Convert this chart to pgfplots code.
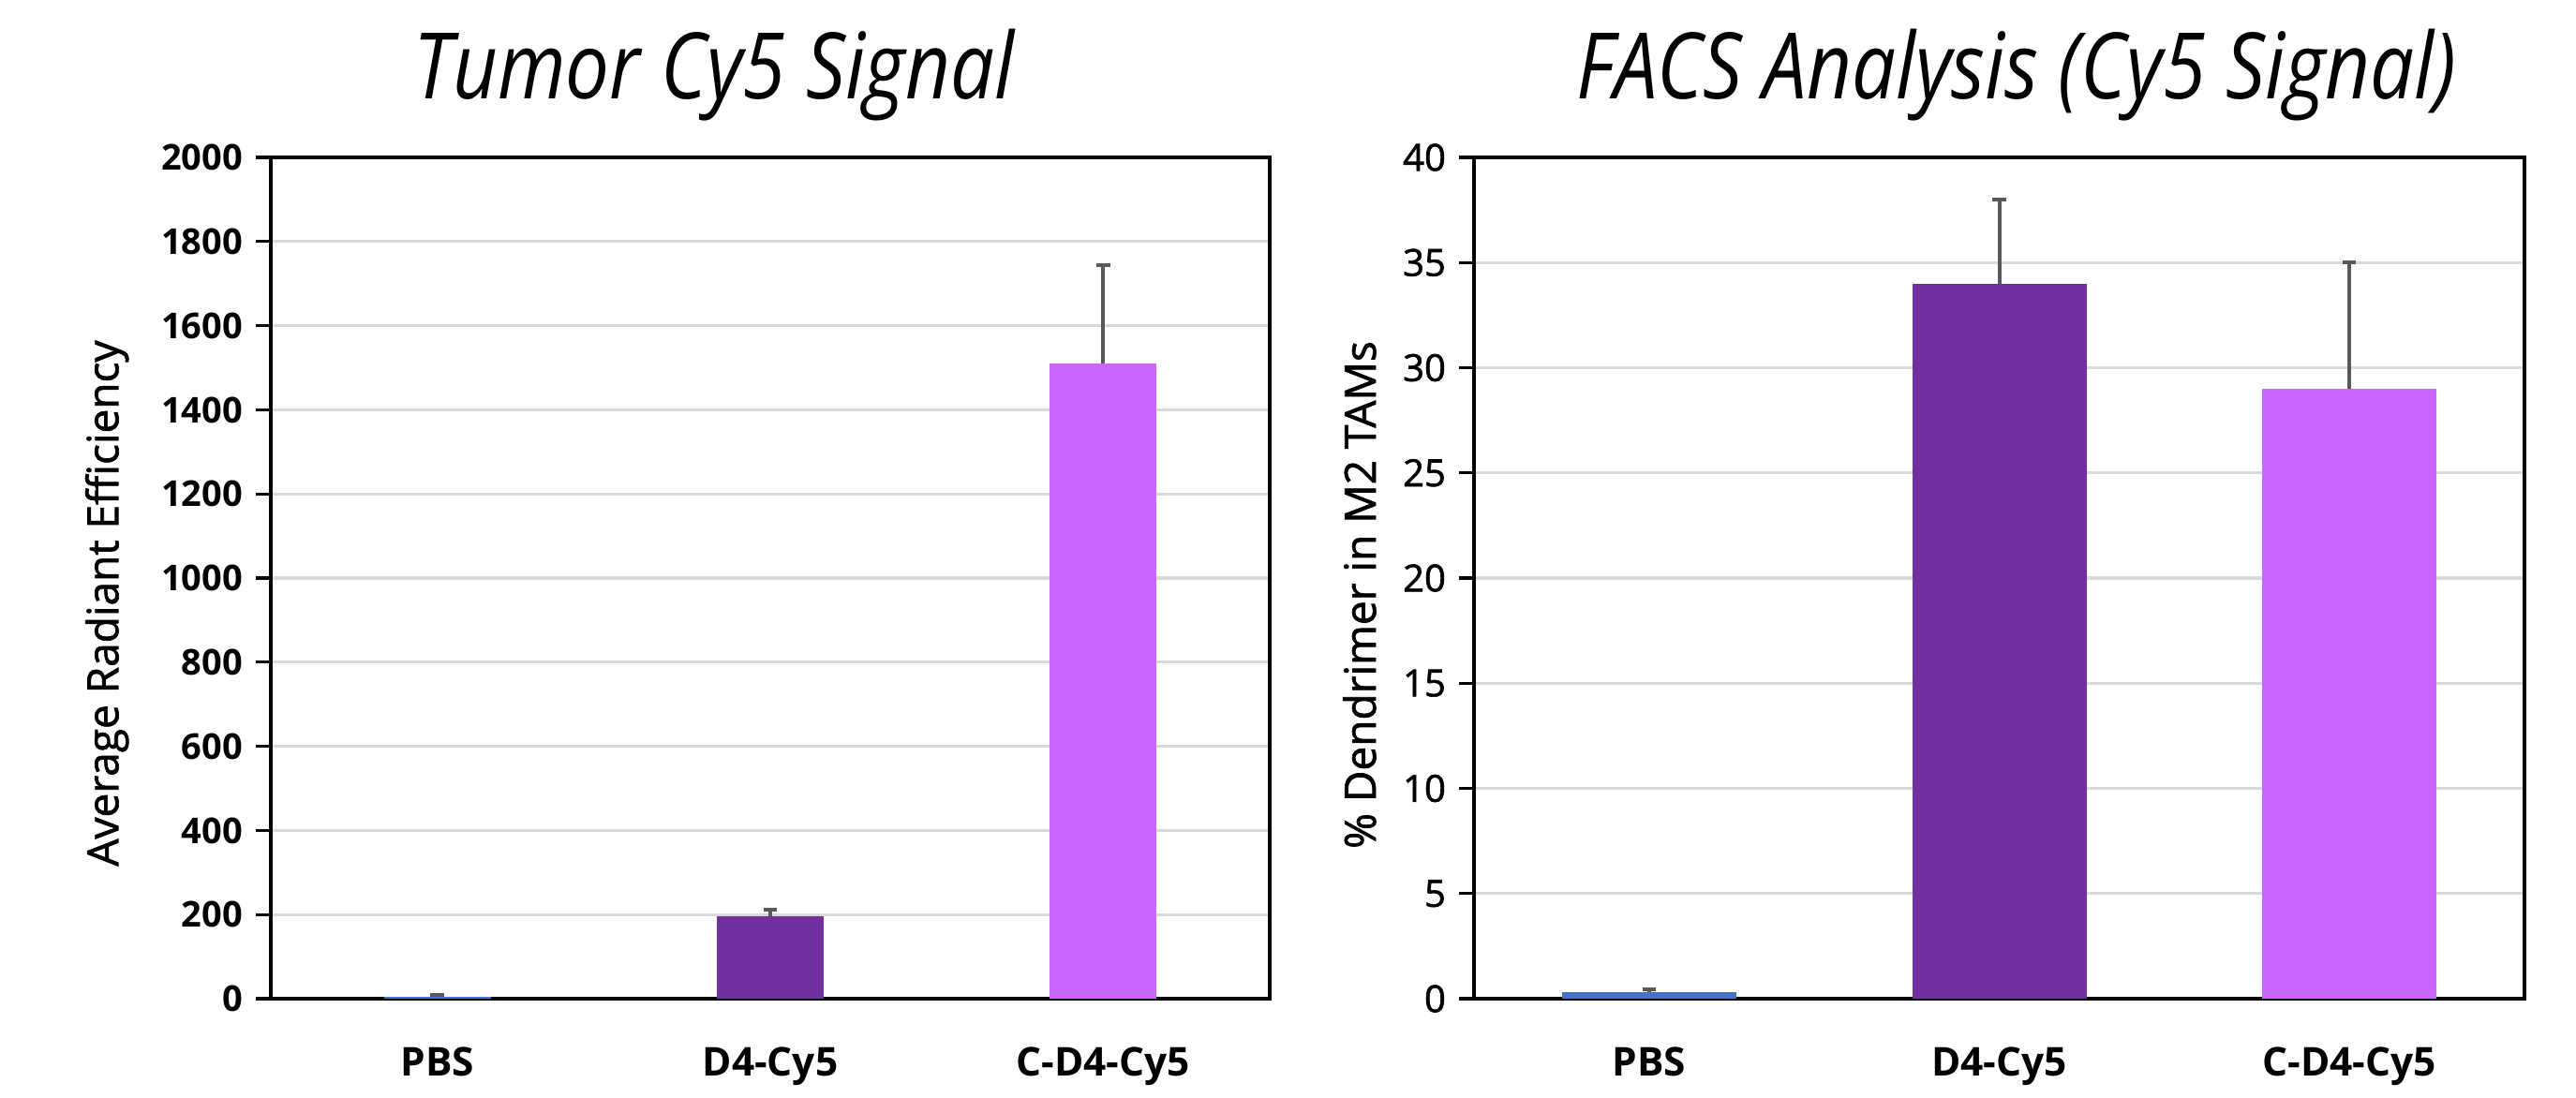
\documentclass[border=0pt]{standalone}
\usepackage{fontspec}
\setmainfont{Open Sans}
\newfontfamily\titlefont[FakeStretch=0.85]{Open Sans}
\newfontfamily\medfont[FakeBold=1.5]{Open Sans}
\usepackage{pgfplots}
\pgfplotsset{compat=1.18}

\definecolor{pbsblue}{HTML}{4472C4}
\definecolor{dpurple}{HTML}{7030A0}
\definecolor{lpurple}{HTML}{CC66FF}
\definecolor{errgray}{HTML}{595959}
\definecolor{gridgray}{HTML}{D9D9D9}

\pgfplotsset{
  panel/.style={
    scale only axis, height=224.5pt,
    ymin=0, xmin=-0.5, xmax=2.5,
    xtick={0,1,2}, xticklabels={PBS,D4-Cy5,C-D4-Cy5},
    xtick style={draw=none},
    xticklabel style={font=\bfseries\fontsize{10.6}{12}\selectfont, anchor=base, yshift=-16.5pt},
    ytick pos=left,
    ytick style={black, line width=0.8pt},
    tick align=outside, major tick length=4pt,
    ymajorgrids, grid style={gridgray, line width=0.8pt},
    axis line style={black, line width=1pt},
    /pgf/number format/assume math mode=true,
    /pgf/number format/1000 sep={},
    scaled y ticks=false,
    ybar, bar shift=0pt,
    ylabel style={anchor=center},
  },
  bar/.style={fill=#1, draw=none,
    error bars/.cd, y dir=plus, y explicit,
    error bar style={errgray, line width=1pt},
    error mark options={errgray, line width=1pt, mark size=1.8pt, rotate=90}},
}

\begin{document}
\begin{tikzpicture}
\path (0,0) rectangle (687.25pt,292.75pt);

% left panel
\begin{axis}[panel, at={(72.25pt,26.25pt)}, anchor=south west,
    width=266.5pt, ymax=2000, ytick={0,200,...,2000},
    bar width=28.5pt,
    yticklabel style={font=\bfseries\fontsize{9.5}{11}\selectfont},
    ylabel={Average Radiant Efficiency},
    ylabel style={at={(axis description cs:-0.164,0.47)}, font=\medfont\fontsize{11.5}{13}\selectfont}]
\addplot[bar=pbsblue] coordinates {(0,5) +- (0,5)};
\addplot[bar=dpurple] coordinates {(1,196) +- (0,15)};
\addplot[bar=lpurple] coordinates {(2,1510) +- (0,235)};
\end{axis}

% right panel
\begin{axis}[panel, at={(393.25pt,26.25pt)}, anchor=south west,
    width=280.25pt, ymax=40, ytick={0,5,...,40},
    bar width=46.5pt,
    yticklabel style={font=\medfont\fontsize{10}{12}\selectfont},
    ylabel={\% Dendrimer in M2 TAMs},
    ylabel style={at={(axis description cs:-0.109,0.48)}, font=\medfont\fontsize{11.5}{13}\selectfont}]
\addplot[bar=pbsblue] coordinates {(0,0.3) +- (0,0.15)};
\addplot[bar=dpurple] coordinates {(1,34) +- (0,4)};
\addplot[bar=lpurple] coordinates {(2,29) +- (0,6)};
\end{axis}

\node[anchor=base] at (190.5pt,266.5pt) {\titlefont\itshape\fontsize{24.5}{28}\selectfont Tumor Cy5 Signal};
\node[anchor=base] at (538pt,266.5pt) {\titlefont\itshape\fontsize{24.5}{28}\selectfont FACS Analysis (Cy5 Signal)};
\end{tikzpicture}
\end{document}
